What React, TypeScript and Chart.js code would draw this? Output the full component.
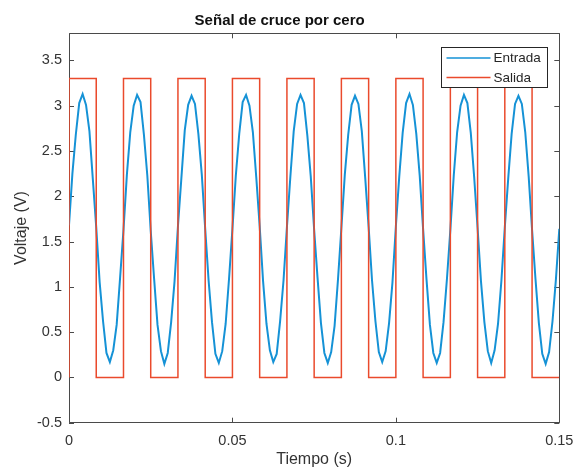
import React, { useEffect, useRef } from 'react';
import { Chart, registerables } from 'chart.js';

Chart.register(...registerables);

// ---------- chart text ----------
const TITLE = 'Señal de cruce por cero';
const X_LABEL = 'Tiempo (s)';
const Y_LABEL = 'Voltaje (V)';
const SERIES_NAMES = ['Entrada', 'Salida'];

// ---------- axes ----------
const X_RANGE = [0, 0.15];
const Y_RANGE = [-0.5, 3.8];
const X_TICKS = [0, 0.05, 0.1, 0.15];
const Y_TICKS = [-0.5, 0, 0.5, 1, 1.5, 2, 2.5, 3, 3.5];

// ---------- Entrada (input sine, sampled) ----------
const entradaTime = [
  0, 0.00104, 0.00208, 0.00313, 0.00417, 0.00521, 0.00625, 0.00729, 0.00833, 0.00938, 0.01042, 0.01146, 0.0125, 0.01354, 0.01458, 0.01563,
  0.01667, 0.01771, 0.01875, 0.01979, 0.02083, 0.02188, 0.02292, 0.02396, 0.025, 0.02604, 0.02708, 0.02813, 0.02917, 0.03021, 0.03125, 0.03229,
  0.03333, 0.03438, 0.03542, 0.03646, 0.0375, 0.03854, 0.03958, 0.04063, 0.04167, 0.04271, 0.04375, 0.04479, 0.04583, 0.04688, 0.04792, 0.04896,
  0.05, 0.05104, 0.05208, 0.05313, 0.05417, 0.05521, 0.05625, 0.05729, 0.05833, 0.05938, 0.06042, 0.06146, 0.0625, 0.06354, 0.06458, 0.06563,
  0.06667, 0.06771, 0.06875, 0.06979, 0.07083, 0.07188, 0.07292, 0.07396, 0.075, 0.07604, 0.07708, 0.07813, 0.07917, 0.08021, 0.08125, 0.08229,
  0.08333, 0.08438, 0.08542, 0.08646, 0.0875, 0.08854, 0.08958, 0.09063, 0.09167, 0.09271, 0.09375, 0.09479, 0.09583, 0.09688, 0.09792, 0.09896,
  0.1, 0.10104, 0.10208, 0.10313, 0.10417, 0.10521, 0.10625, 0.10729, 0.10833, 0.10938, 0.11042, 0.11146, 0.1125, 0.11354, 0.11458, 0.11563,
  0.11667, 0.11771, 0.11875, 0.11979, 0.12083, 0.12188, 0.12292, 0.12396, 0.125, 0.12604, 0.12708, 0.12813, 0.12917, 0.13021, 0.13125, 0.13229,
  0.13333, 0.13438, 0.13542, 0.13646, 0.1375, 0.13854, 0.13958, 0.14063, 0.14167, 0.14271, 0.14375, 0.14479, 0.14583, 0.14688, 0.14792, 0.14896,
  0.15,
];
const entradaVolt = [
  1.68, 2.25, 2.68, 3.03, 3.13, 3.01, 2.72, 2.19, 1.66, 1.05, 0.62, 0.27, 0.17, 0.3, 0.58, 1.1,
  1.63, 2.24, 2.71, 3.0, 3.12, 3.04, 2.68, 2.23, 1.62, 1.09, 0.58, 0.29, 0.15, 0.27, 0.61, 1.06,
  1.67, 2.2, 2.73, 3.01, 3.11, 3.02, 2.69, 2.24, 1.64, 1.07, 0.61, 0.26, 0.16, 0.29, 0.59, 1.09,
  1.64, 2.23, 2.69, 3.04, 3.12, 3.0, 2.71, 2.21, 1.67, 1.06, 0.59, 0.3, 0.17, 0.26, 0.62, 1.07,
  1.66, 2.21, 2.72, 3.02, 3.12, 3.03, 2.67, 2.22, 1.63, 1.1, 0.6, 0.27, 0.16, 0.28, 0.57, 1.08,
  1.65, 2.24, 2.68, 3.01, 3.11, 3.02, 2.72, 2.2, 1.66, 1.07, 0.62, 0.28, 0.17, 0.29, 0.6, 1.05,
  1.67, 2.22, 2.7, 3.03, 3.13, 3.01, 2.69, 2.23, 1.64, 1.08, 0.58, 0.27, 0.16, 0.27, 0.61, 1.09,
  1.63, 2.23, 2.71, 3.0, 3.12, 3.03, 2.7, 2.21, 1.65, 1.06, 0.61, 0.29, 0.16, 0.3, 0.59, 1.07,
  1.66, 2.2, 2.69, 3.02, 3.11, 3.02, 2.71, 2.22, 1.63, 1.09, 0.6, 0.26, 0.15, 0.28, 0.62, 1.08,
  1.64,
];

// ---------- Salida (comparator output, held value from each time) ----------
const salidaTime = [
  0, 0, 0.00833, 0.01667, 0.025, 0.03333, 0.04167, 0.05, 0.05833, 0.06667,
  0.075, 0.08333, 0.09167, 0.1, 0.10833, 0.11667, 0.125, 0.13333, 0.14167, 0.15,
];
const salidaVolt = [
  0, 3.3, 0, 3.3, 0, 3.3, 0, 3.3, 0, 3.3,
  0, 3.3, 0, 3.3, 0, 3.3, 0, 3.3, 0, 0,
];

// ---------- styles ----------
const COLORS = ['#1592D6', '#EA4A2C'];
const FONT = "'Liberation Sans', Arial, Helvetica, sans-serif";
const AXIS_COLOR = '#4a4a4a';
const TEXT_COLOR = '#333333';

const axesBoxPlugin = {
  id: 'axesBox',
  beforeDatasetsDraw(chart: any) {
    const { ctx, chartArea } = chart;
    const { left, right, top, bottom } = chartArea;
    const xs = chart.scales.x;
    const ys = chart.scales.y;
    const tl = 5;
    ctx.save();
    ctx.strokeStyle = AXIS_COLOR;
    ctx.lineWidth = 1;
    ctx.beginPath();
    ctx.rect(Math.round(left) + 0.5, Math.round(top) + 0.5, Math.round(right - left), Math.round(bottom - top));
    for (const v of X_TICKS) {
      const px = Math.round(xs.getPixelForValue(v)) + 0.5;
      ctx.moveTo(px, bottom);
      ctx.lineTo(px, bottom - tl);
      ctx.moveTo(px, top);
      ctx.lineTo(px, top + tl);
    }
    for (const v of Y_TICKS) {
      const py = Math.round(ys.getPixelForValue(v)) + 0.5;
      ctx.moveTo(left, py);
      ctx.lineTo(left + tl, py);
      ctx.moveTo(right, py);
      ctx.lineTo(right - tl, py);
    }
    ctx.stroke();
    ctx.restore();
  },
};

const boxedLegendPlugin = {
  id: 'boxedLegend',
  afterDraw(chart: any) {
    const { ctx, chartArea } = chart;
    const w = 106;
    const h = 40;
    const x0 = Math.round(chartArea.right - 12.6 - w) + 0.5;
    const y0 = Math.round(chartArea.top + 13.4) + 0.5;
    ctx.save();
    ctx.fillStyle = '#ffffff';
    ctx.fillRect(x0, y0, w, h);
    ctx.strokeStyle = '#262626';
    ctx.lineWidth = 1;
    ctx.strokeRect(x0, y0, w, h);
    const rows = [10.6, 30];
    chart.data.datasets.forEach((ds: any, i: number) => {
      const y = y0 + rows[i];
      ctx.strokeStyle = ds.borderColor;
      ctx.lineWidth = 1.5;
      ctx.beginPath();
      ctx.moveTo(x0 + 5, y);
      ctx.lineTo(x0 + 49, y);
      ctx.stroke();
      ctx.fillStyle = '#262626';
      ctx.font = `13.5px ${FONT}`;
      ctx.textAlign = 'left';
      ctx.textBaseline = 'middle';
      ctx.fillText(ds.label, x0 + 52, y + 0.5);
    });
    ctx.restore();
  },
};

export default function App() {
  const canvasRef = useRef<HTMLCanvasElement | null>(null);

  useEffect(() => {
    document.body.style.margin = '0';
    const canvas = canvasRef.current;
    if (!canvas) return;

    const entradaPoints = entradaTime.map((t, i) => ({ x: t, y: entradaVolt[i] }));
    const salidaPoints = salidaTime.map((t, i) => ({ x: t, y: salidaVolt[i] }));

    const chart = new Chart(canvas, {
      type: 'line',
      data: {
        datasets: [
          {
            label: SERIES_NAMES[0],
            data: entradaPoints,
            borderColor: COLORS[0],
            backgroundColor: COLORS[0],
            borderWidth: 2,
            pointRadius: 0,
            tension: 0,
            fill: false,
            order: 1,
          },
          {
            label: SERIES_NAMES[1],
            data: salidaPoints,
            borderColor: COLORS[1],
            backgroundColor: COLORS[1],
            borderWidth: 1.5,
            pointRadius: 0,
            stepped: 'before',
            fill: false,
            order: 0,
          },
        ],
      },
      options: {
        animation: false,
        responsive: false,
        devicePixelRatio: 1,
        events: [],
        layout: { padding: { left: 0, right: 16.7, top: 0, bottom: 0 } },
        plugins: {
          legend: { display: false },
          tooltip: { enabled: false },
          title: {
            display: true,
            text: TITLE,
            color: '#111111',
            font: { family: FONT, size: 15, weight: 'bold', lineHeight: 1.2 },
            padding: { top: 12, bottom: 3.3 },
          },
        },
        scales: {
          x: {
            type: 'linear',
            min: X_RANGE[0],
            max: X_RANGE[1],
            afterBuildTicks: (s: any) => {
              s.ticks = X_TICKS.map((v) => ({ value: v }));
            },
            afterFit: (s: any) => {
              s.height = 47.3;
              s.paddingLeft = 0;
              s.paddingRight = 0;
            },
            grid: { display: false, drawTicks: false },
            border: { display: false },
            ticks: {
              autoSkip: false,
              maxRotation: 0,
              padding: 10,
              color: TEXT_COLOR,
              font: { family: FONT, size: 14.5, lineHeight: 1.2 },
              callback: (v: any) => String(Number(v)),
            },
            title: {
              display: true,
              text: X_LABEL,
              color: TEXT_COLOR,
              font: { family: FONT, size: 16, lineHeight: 1.2 },
              padding: { top: 0, bottom: 0.5 },
            },
          },
          y: {
            type: 'linear',
            min: Y_RANGE[0],
            max: Y_RANGE[1],
            afterBuildTicks: (s: any) => {
              s.ticks = Y_TICKS.map((v) => ({ value: v }));
            },
            afterFit: (s: any) => {
              s.width = 69;
              s.paddingTop = 0;
              s.paddingBottom = 0;
            },
            grid: { display: false, drawTicks: false },
            border: { display: false },
            ticks: {
              autoSkip: false,
              padding: 7,
              color: TEXT_COLOR,
              font: { family: FONT, size: 14.5, lineHeight: 1.2 },
              callback: (v: any) => String(Number(v)),
            },
            title: {
              display: true,
              text: Y_LABEL,
              color: TEXT_COLOR,
              font: { family: FONT, size: 16, lineHeight: 1.2 },
              padding: { top: 12, bottom: 0 },
            },
          },
        },
      },
      plugins: [axesBoxPlugin, boxedLegendPlugin],
    } as any);

    return () => {
      chart.destroy();
    };
  }, []);

  return (
    <div style={{ position: 'absolute', left: 0, top: 0, width: 576, height: 470, background: '#ffffff' }}>
      <canvas ref={canvasRef} width={576} height={470} style={{ width: 576, height: 470, display: 'block' }} />
    </div>
  );
}
